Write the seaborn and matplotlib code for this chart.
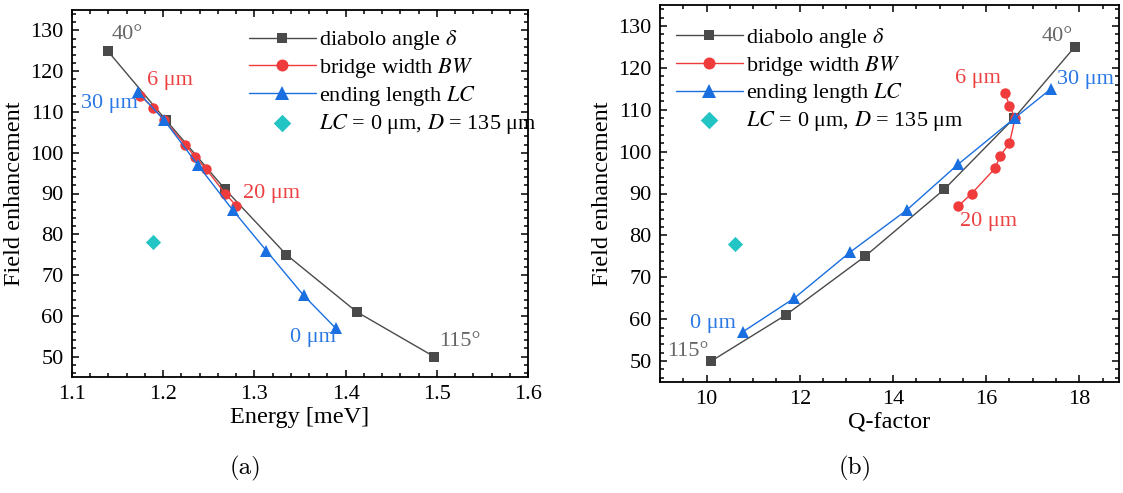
import matplotlib
matplotlib.use("Agg")
import matplotlib.pyplot as plt
import seaborn as sns

# --- data ---
angle_E = [1.139, 1.203, 1.268, 1.335, 1.412, 1.497]
angle_Q = [17.9, 16.6, 15.1, 13.4, 11.7, 10.1]
angle_F = [125, 108, 91, 75, 61, 50]

bridge_E = [1.175, 1.189, 1.201, 1.224, 1.235, 1.247, 1.268, 1.280]
bridge_Q = [16.40, 16.50, 16.62, 16.50, 16.30, 16.19, 15.69, 15.40]
bridge_F = [114, 111, 108, 102, 99, 96, 90, 87]

ending_E = [1.172, 1.201, 1.238, 1.276, 1.313, 1.354, 1.389]
ending_Q = [17.39, 16.61, 15.40, 14.29, 13.08, 11.88, 10.78]
ending_F = [115, 108, 97, 86, 76, 65, 57]

ref_E = [1.189]
ref_Q = [10.6]
ref_F = [78]

GRAY, RED, BLUE, CYAN = "#4a4a4a", "#ef3b3b", "#1a6fe0", "#22c4c4"
GRAY_T, RED_T, BLUE_T = "#666666", "#ee4040", "#2a78e4"

sns.set_theme(style="ticks")
plt.rcParams["font.family"] = ["Liberation Serif", "DejaVu Serif"]
plt.rcParams["mathtext.fontset"] = "stix"
plt.rcParams["axes.linewidth"] = 1.3
plt.rcParams["text.color"] = "black"
plt.rcParams["axes.labelcolor"] = "black"

fig = plt.figure(figsize=(11.23, 4.93), dpi=100)
ax_a = fig.add_axes([72 / 1123, 116 / 493, 456 / 1123, 367 / 493])
ax_b = fig.add_axes([660 / 1123, 111 / 493, 459 / 1123, 377 / 493])

labels = ["diabolo angle $\\delta$", "bridge width $BW$",
          "ending length $LC$", "$LC$ = 0 μm, $D$ = 135 μm"]


def draw(ax, xa, xb, xc, xr):
    kw = dict(ax=ax, sort=False, lw=1.0, markeredgewidth=0, estimator=None)
    sns.lineplot(x=xa, y=angle_F, color=GRAY, marker="s", markersize=6.5, label=labels[0], **kw)
    sns.lineplot(x=xb, y=bridge_F, color=RED, marker="o", markersize=7.5, label=labels[1], **kw)
    sns.lineplot(x=xc, y=ending_F, color=BLUE, marker="^", markersize=8.5, label=labels[2], **kw)
    sns.scatterplot(x=xr, y=ref_F, color=CYAN, marker="D", s=60, linewidth=0,
                    label=labels[3], ax=ax)
    ax.set_ylim(45, 135)
    ax.set_yticks(range(50, 131, 10))
    ax.set_ylabel("Field enhancement", fontsize=17.5, labelpad=4)
    ax.minorticks_on()
    ax.tick_params(which="both", direction="in", top=True, right=True,
                   labelsize=16, width=1.1, color="black", labelcolor="black", pad=6)
    ax.tick_params(which="major", length=5)
    ax.tick_params(which="minor", length=3)
    for s in ax.spines.values():
        s.set_visible(True)
        s.set_color("black")


def legend(ax, x, y):
    leg = ax.legend(loc="upper left", bbox_to_anchor=(x, y), frameon=False,
                    fontsize=16, handlelength=3.0, handletextpad=0.15,
                    labelspacing=0.17, borderaxespad=0, borderpad=0,
                    markerscale=1.15)
    return leg


draw(ax_a, angle_E, bridge_E, ending_E, ref_E)
ax_a.set_xlim(1.1, 1.6)
ax_a.set_xticks([1.1, 1.2, 1.3, 1.4, 1.5, 1.6])
ax_a.set_xlabel("Energy [meV]", fontsize=17.5, labelpad=2)
legend(ax_a, 0.388, 0.95)

draw(ax_b, angle_Q, bridge_Q, ending_Q, ref_Q)
ax_b.set_xlim(9, 18.85)
ax_b.set_xticks([10, 12, 14, 16, 18])
ax_b.set_xlabel("Q-factor", fontsize=17.5, labelpad=2)
legend(ax_b, 0.035, 0.945)

# point annotations
notes_a = [("40°", 1.143, 129, GRAY_T), ("6 μm", 1.1825, 117.8, RED_T),
           ("30 μm", 1.1095, 112.1, BLUE_T), ("20 μm", 1.2876, 90.1, RED_T),
           ("0 μm", 1.3388, 54.6, BLUE_T), ("115°", 1.502, 53.8, GRAY_T)]
notes_b = [("40°", 17.18, 127.5, GRAY_T), ("6 μm", 15.32, 117.5, RED_T),
           ("30 μm", 17.53, 117.1, BLUE_T), ("20 μm", 15.43, 83.3, RED_T),
           ("0 μm", 9.64, 59.0, BLUE_T), ("115°", 9.16, 52.3, GRAY_T)]
for ax, notes in [(ax_a, notes_a), (ax_b, notes_b)]:
    for txt, x, y, c in notes:
        ax.text(x, y, txt, color=c, fontsize=16, ha="left", va="center")

fig.text(245 / 1123, 1 - 468 / 493, "(a)", family="cmr10", fontsize=18,
         ha="center", va="center")
fig.text(855 / 1123, 1 - 468 / 493, "(b)", family="cmr10", fontsize=18,
         ha="center", va="center")

fig.savefig("out.png", dpi=100)
